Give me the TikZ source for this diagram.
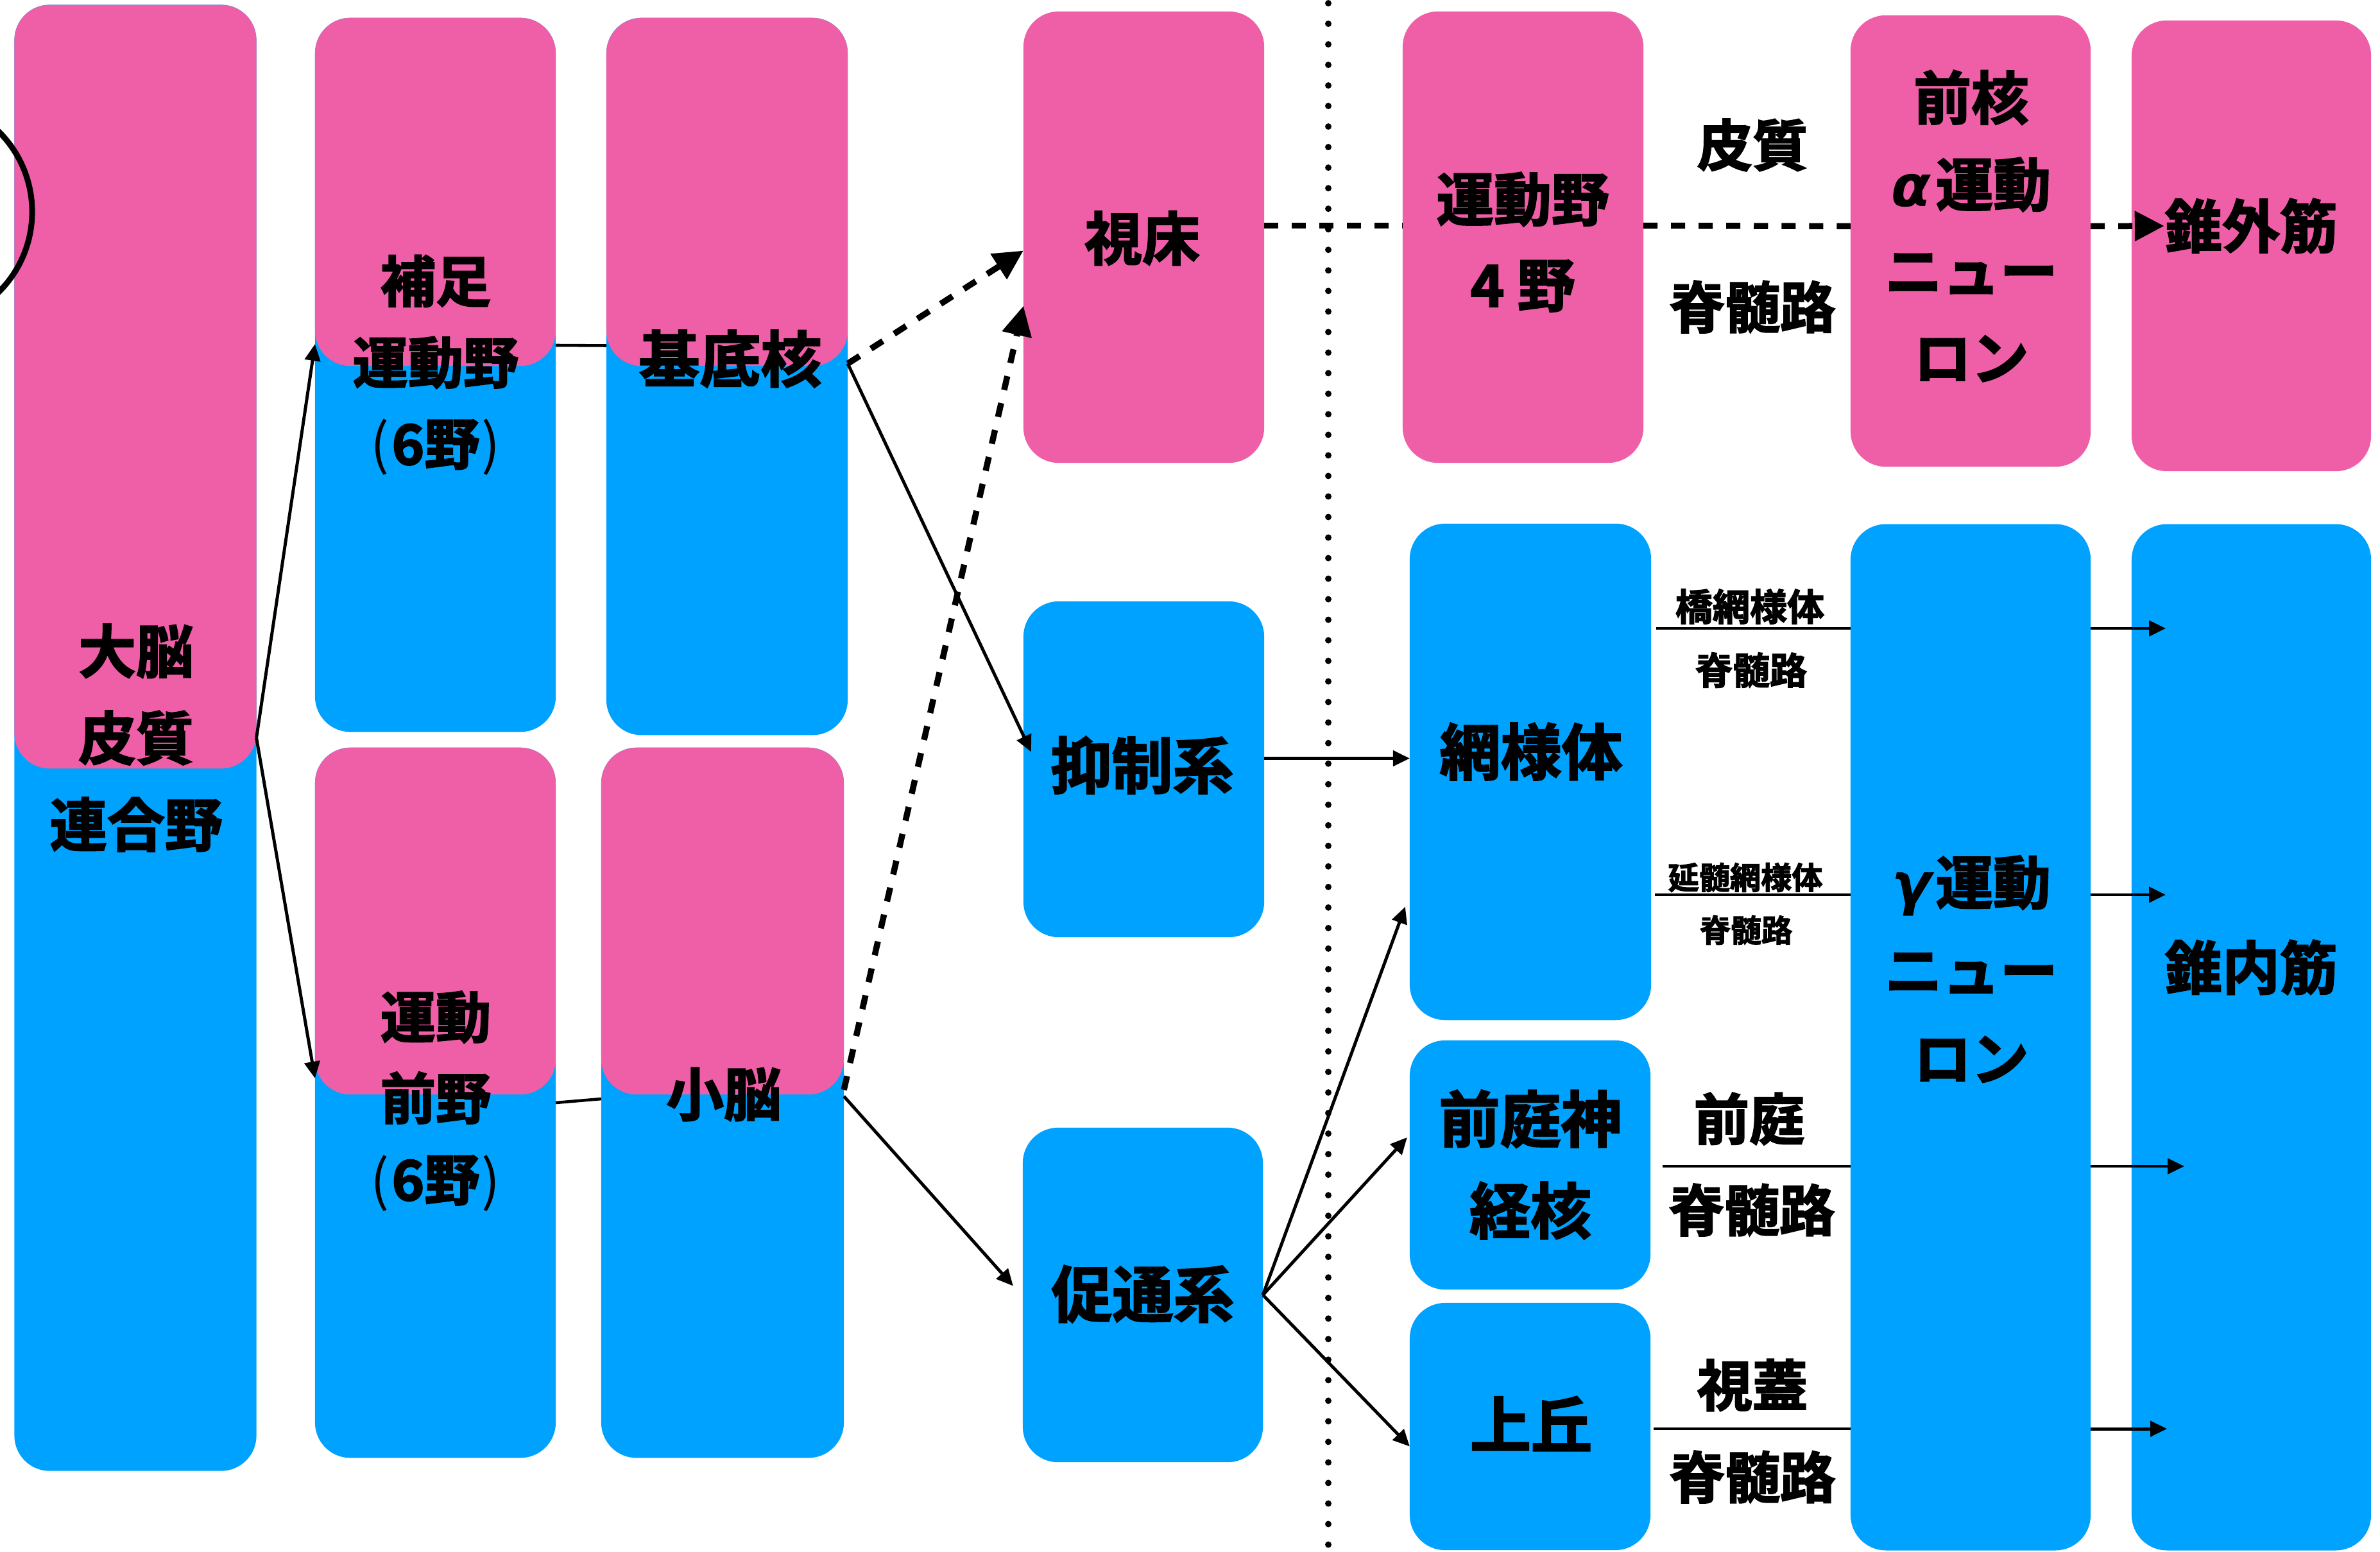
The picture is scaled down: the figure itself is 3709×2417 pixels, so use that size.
\documentclass[tikz,border=0pt]{standalone}
\usepackage{fontspec}
\setmainfont{Noto Sans CJK JP}[BoldFont={Noto Sans CJK JP Bold}, BoldFeatures={FakeBold=2.5}]
\newfontfamily\greekfont{DejaVu Sans}[BoldItalicFont={DejaVu Sans Bold Oblique}]
\usetikzlibrary{arrows.meta, positioning}
\definecolor{brainpink}{RGB}{239,95,167}
\definecolor{brainblue}{RGB}{0,162,255}
\newcommand{\boxfont}[2]{\fontsize{#1}{#2}\selectfont\bfseries}
\newcommand{\grk}[1]{{\greekfont\bfseries\itshape #1}\kern0.08em}
\newcommand{\lpar}{{\mdseries(}\kern0.04em}
\newcommand{\rpar}{\kern0.04em{\mdseries)}}
\tikzset{%
	every box/.style={
		rectangle,
		rounded corners=0.55cm,
		inner sep=0pt,
		outer sep=0pt,
		minimum width=3.75cm
	},
	pink box/.style={every box, fill=brainpink},
	blue box/.style={every box, fill=brainblue},
	box text/.style={
		align=center,
		inner sep=0pt,
		font=\boxfont{25.5}{38.4}
	},
	tract text/.style={
		inner sep=0pt,
		font=\boxfont{24.5}{30}
	},
	small tract text/.style={
		inner sep=0pt,
		font=\boxfont{16.5}{20}
	},
}

\begin{document}
\begin{tikzpicture}[
				x=0.01cm, y=-0.01cm,
				thin link/.style={line width=1.3pt},
				thin arrow/.style={line width=1.4pt, -{Triangle[length=0.26cm,width=0.24cm]}},
				dashed link/.style={line width=2.7pt, dash pattern=on 0.22cm off 0.21cm},
				dashed arrow/.style={dashed link, -{Triangle[length=0.46cm,width=0.45cm]}},
				divider/.style={line width=0.1cm, line cap=round, dash pattern=on 0pt off 0.32cm},
				edge circle/.style={circle, draw, line width=0.09cm, minimum size=3.52cm, inner sep=0pt}
				]
				\useasboundingbox (0,0) rectangle (3709,2417);
				
				\node[blue box, minimum width=3.77cm, minimum height=22.83cm] (cortex) at (211,1149.5) {};
				\node[pink box, minimum width=3.77cm, minimum height=11.89cm] (cortex top) at (211,602.5) {};
				\node[blue box, minimum height=11.12cm] (sma) at (678.5,584) {};
				\node[pink box, minimum height=5.42cm] (sma top) at (678.5,299) {};
				\node[blue box, minimum width=3.76cm, minimum height=11.17cm] (bg) at (1133,586.5) {};
				\node[pink box, minimum width=3.76cm, minimum height=5.42cm] (bg top) at (1133,299) {};
				\node[blue box, minimum height=11.06cm] (pm) at (678.5,1718) {};
				\node[pink box, minimum height=5.40cm] (pm top) at (678.5,1435) {};
				\node[blue box, minimum width=3.78cm, minimum height=11.06cm] (cb) at (1126,1718) {};
				\node[pink box, minimum width=3.78cm, minimum height=5.40cm] (cb top) at (1126,1435) {};
				
				\node[pink box, minimum height=7.03cm] (thal) at (1782.5,369.5) {};
				\node[blue box, minimum height=5.23cm] (inhib) at (1782.5,1198.5) {};
				\node[blue box, minimum width=3.74cm, minimum height=5.21cm] (facil) at (1781,2017.5) {};
				
				\node[pink box, minimum height=7.03cm] (m1) at (2373.5,369.5) {};
				\node[blue box, minimum width=3.76cm, minimum height=7.73cm] (rf) at (2385,1202.5) {};
				\node[blue box, minimum height=3.88cm] (vn) at (2384.5,1815) {};
				\node[blue box, minimum height=3.85cm] (sc) at (2384.5,2222.5) {};
				
				\node[pink box, minimum width=3.74cm, minimum height=7.03cm] (amn) at (3071,375.5) {};
				\node[blue box, minimum width=3.74cm, minimum height=15.98cm] (gmn) at (3071,1616) {};
				\node[pink box, minimum width=3.73cm, minimum height=7.02cm] (extra) at (3508.5,383) {};
				\node[blue box, minimum width=3.73cm, minimum height=15.98cm] (intra) at (3508.5,1616) {};
				
				\node[edge circle] (half circle) at (-126,330) {};
				
				\coordinate (divider top) at (2070,5);
				\coordinate (divider bottom) at (2070,2417);
				\draw[divider] (divider top) -- (divider bottom);
				
				\node[box text] (cortex label) at (212,1149.5) {大脳\\皮質\\連合野};
				\node[box text, font=\boxfont{24.5}{36}] (sma label) at (679,569) {補足\\運動野\\\lpar 6野\rpar};
				\node[box text, font=\boxfont{27}{38}] (bg label) at (1138,559) {基底核};
				\node[box text, font=\boxfont{24.5}{36}] (pm label) at (679,1715.5) {運動\\前野\\\lpar 6野\rpar};
				\node[box text] (cb label) at (1128,1705) {小脳};
				\node[box text] (thal label) at (1780,371) {視床};
				\node[box text, font=\boxfont{27}{38}] (inhib label) at (1780,1192) {抑制系};
				\node[box text, font=\boxfont{27}{38}] (facil label) at (1781,2016) {促通系};
				\node[box text, font=\boxfont{25.5}{38}] (m1 label) at (2373,377) {運動野\\4 野};
				\node[box text, font=\boxfont{27}{38}] (rf label) at (2386,1171) {網様体};
				\node[box text, font=\boxfont{27}{40.6}] (vn label) at (2385,1814.5) {前庭神\\経核};
				\node[box text, font=\boxfont{27}{38}] (sc label) at (2386,2218) {上丘};
				\node[box text] (amn label) at (3072,352) {前核\\\grk{α}運動\\ニュー\\ロン};
				\node[box text, font=\boxfont{25.5}{39}] (gmn label) at (3072,1509.5) {\grk{γ}運動\\ニュー\\ロン};
				\node[box text] (extra label) at (3508,352) {錐外筋};
				\node[box text] (intra label) at (3508,1507) {錐内筋};
				
				\node[tract text] (cst top) at (2731,226) {皮質};
				\node[tract text] (cst bottom) at (2731,478) {脊髄路};
				\node[small tract text] (pontine top) at (2727,945) {橋網様体};
				\node[small tract text] (pontine bottom) at (2729,1044) {脊髄路};
				\node[small tract text, font=\boxfont{13.7}{16}] (medullary top) at (2720,1367) {延髄網様体};
				\node[small tract text, font=\boxfont{13.7}{16}] (medullary bottom) at (2721,1449) {脊髄路};
				\node[tract text] (vestibular top) at (2726,1743) {前庭};
				\node[tract text] (vestibular bottom) at (2730,1885) {脊髄路};
				\node[tract text] (tectal top) at (2731,2158) {視蓋};
				\node[tract text] (tectal bottom) at (2731,2301) {脊髄路};
				
				\draw[thin arrow] (cortex.east) -- ([yshift=0.48cm]sma.west);
				\draw[thin arrow] (cortex.east) -- ([yshift=0.38cm]pm.west);
				\draw[thin link] ([yshift=0.46cm]sma.east) -- ([yshift=0.48cm]bg.west);
				\draw[thin link] (pm.east) -- ([yshift=0.06cm]cb.west);
				\draw[dashed arrow] ([yshift=0.2cm]bg.east) -- ([yshift=-0.21cm]thal.west);
				\draw[thin arrow] ([yshift=0.2cm]bg.east) -- ([shift={(0.12cm,0.27cm)}]inhib.west);
				\draw[dashed arrow] ([yshift=0.2cm]cb.east) -- ([yshift=-1.07cm]thal.west);
				\draw[thin arrow] ([yshift=0.1cm]cb.east) -- ([shift={(-0.15cm,0.14cm)}]facil.west);
				\draw[thin arrow] ([yshift=0.17cm]inhib.east) -- ([yshift=0.17cm]inhib.east -| rf.west);
				\draw[thin arrow] (facil.east) -- ([shift={(-0.07cm,-2.1cm)}]rf.west);
				\draw[thin arrow] (facil.east) -- ([shift={(-0.04cm,0.43cm)}]vn.west);
				\draw[thin arrow] (facil.east) -- ([yshift=-0.31cm]sc.west);
				
				\draw[dashed link] ([yshift=0.18cm]thal.east) -- ([yshift=0.18cm]m1.west);
				\draw[dashed link] ([yshift=0.18cm]m1.east) -- ([yshift=0.23cm]amn.west);
				\draw[dashed arrow] ([yshift=0.23cm]amn.east) -- (extra label.west);
				
				\coordinate (pontine start) at (2581,979);
				\coordinate (pontine end) at (3375,979);
				\coordinate (medullary start) at (2579,1394);
				\coordinate (medullary end) at (3375,1394);
				\coordinate (vestibular start) at (2591,1817);
				\coordinate (vestibular end) at (3404,1817);
				\coordinate (tectal start) at (2577,2226);
				\coordinate (tectal end) at (3377,2226);
				\draw[thin link] (pontine start) -- (pontine start -| gmn.west);
				\draw[thin arrow] (pontine start -| gmn.east) -- (pontine end);
				\draw[thin link] (medullary start) -- (medullary start -| gmn.west);
				\draw[thin arrow] (medullary start -| gmn.east) -- (medullary end);
				\draw[thin link] (vestibular start) -- (vestibular start -| gmn.west);
				\draw[thin arrow] (vestibular start -| gmn.east) -- (vestibular end);
				\draw[thin link] (tectal start) -- (tectal start -| gmn.west);
				\draw[thin arrow] (tectal start -| gmn.east) -- (tectal end);
				
			\end{tikzpicture}
\end{document}
